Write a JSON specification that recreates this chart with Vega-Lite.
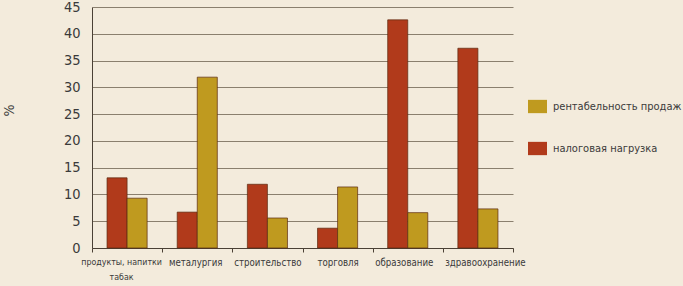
{
  "$schema": "https://vega.github.io/schema/vega-lite/v6.json",
  "width": 421,
  "height": 241,
  "autosize": {"type": "none"},
  "padding": {"left": 92, "top": 7, "right": 170, "bottom": 38},
  "background": "#F3EBDC",
  "config": {
    "view": {"stroke": null},
    "font": "DejaVu Sans Condensed, Roboto, sans-serif"
  },
  "data": {
    "values": [
      {"cat": "продукты, напитки табак", "series": "налоговая нагрузка", "value": 13.1},
      {"cat": "продукты, напитки табак", "series": "рентабельность продаж", "value": 9.3},
      {"cat": "металургия", "series": "налоговая нагрузка", "value": 6.7},
      {"cat": "металургия", "series": "рентабельность продаж", "value": 31.9},
      {"cat": "строительство", "series": "налоговая нагрузка", "value": 11.9},
      {"cat": "строительство", "series": "рентабельность продаж", "value": 5.6},
      {"cat": "торговля", "series": "налоговая нагрузка", "value": 3.7},
      {"cat": "торговля", "series": "рентабельность продаж", "value": 11.4},
      {"cat": "образование", "series": "налоговая нагрузка", "value": 42.6},
      {"cat": "образование", "series": "рентабельность продаж", "value": 6.6},
      {"cat": "здравоохранение", "series": "налоговая нагрузка", "value": 37.3},
      {"cat": "здравоохранение", "series": "рентабельность продаж", "value": 7.3}
    ]
  },
  "mark": {"type": "bar", "stroke": "#5a2a10", "strokeWidth": 0.7},
  "encoding": {
    "x": {
      "field": "cat",
      "type": "nominal",
      "sort": null,
      "scale": {"paddingInner": 0, "paddingOuter": 0},
      "axis": {
        "title": null,
        "labelAngle": 0,
        "tickBand": "extent",
        "ticks": true,
        "tickSize": 4,
        "tickColor": "#4a4035",
        "domainColor": "#4a4035",
        "labelFontSize": {
          "condition": {"test": "datum.index == 0", "value": 8.8},
          "value": 9.6
        },
        "labelLineHeight": 15,
        "labelColor": "#3a3a3a",
        "labelPadding": 5,
        "labelLimit": 200,
        "labelOverlap": false,
        "labelOffset": {
          "condition": [
            {"test": "datum.index == 0", "value": -6},
            {"test": "datum.value == 'металургия'", "value": -2},
            {"test": "datum.value == 'образование'", "value": -4},
            {"test": "datum.value == 'здравоохранение'", "value": 7}
          ],
          "value": 0
        },
        "labelExpr": "datum.value == 'продукты, напитки табак' ? ['продукты, напитки', 'табак'] : datum.value"
      }
    },
    "xOffset": {
      "field": "series",
      "sort": ["налоговая нагрузка", "рентабельность продаж"],
      "scale": {"paddingInner": 0, "paddingOuter": 0.75}
    },
    "y": {
      "field": "value",
      "type": "quantitative",
      "scale": {"domain": [0, 45], "nice": false},
      "axis": {
        "title": "%",
        "titleFontSize": 14,
        "titleFontWeight": "normal",
        "titleColor": "#3a3a3a",
        "titleX": -76,
        "titleY": 103,
        "values": [0, 5, 10, 15, 20, 25, 30, 35, 40, 45],
        "grid": true,
        "gridColor": "#8a7f6e",
        "gridWidth": 1,
        "ticks": false,
        "domain": true,
        "domainColor": "#4a4035",
        "labelFontSize": 14.5,
        "labelColor": "#3a3a3a",
        "labelPadding": 12
      }
    },
    "color": {
      "field": "series",
      "type": "nominal",
      "scale": {
        "domain": ["рентабельность продаж", "налоговая нагрузка"],
        "range": ["#BF9A1F", "#B13A1B"]
      },
      "legend": {
        "title": null,
        "orient": "none",
        "legendX": 436,
        "legendY": 90,
        "symbolType": "M-1,-0.7H1V0.7H-1Z",
        "symbolSize": 361,
        "symbolStrokeWidth": 0,
        "symbolOpacity": 1,
        "labelFontSize": 11,
        "labelColor": "#3a3a3a",
        "labelOffset": 6,
        "rowPadding": 25,
        "labelLimit": 200
      }
    }
  }
}
